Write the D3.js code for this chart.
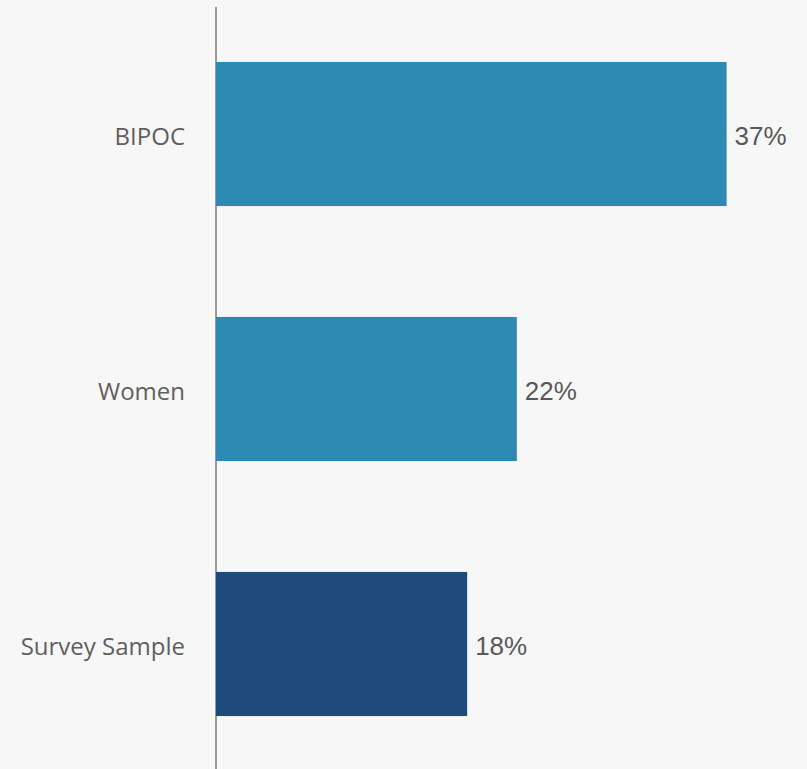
<!DOCTYPE html>
<html>
<head>
<meta charset="utf-8">
<script src="https://cdn.jsdelivr.net/npm/d3@7/dist/d3.min.js"></script>
<style>
  html, body { margin: 0; padding: 0; background: #f7f7f7; }
  svg { display: block; }
</style>
</head>
<body>
<svg id="chart" width="807" height="769"></svg>
<script>
const categories = ["BIPOC", "Women", "Survey Sample"];
const values = [37.0, 21.8, 18.2];
const valueLabels = ["37%", "22%", "18%"];
const barColors = ["#2d8ab2", "#2d8ab2", "#1f4a7c"];

const W = 807, H = 769;
const svg = d3.select("#chart");
svg.append("rect").attr("width", W).attr("height", H).attr("fill", "#f7f7f7");

const x = d3.scaleLinear().domain([0, 40]).range([216, 768]);
const y = d3.scaleBand().domain(categories).range([6.5, 771.5])
  .paddingInner(0.435).paddingOuter(0.2175);

const data = categories.map((c, i) => ({ c, v: values[i], label: valueLabels[i], color: barColors[i] }));

// axis line
svg.append("line")
  .attr("x1", x(0)).attr("x2", x(0))
  .attr("y1", 7).attr("y2", H)
  .attr("stroke", "#999999").attr("stroke-width", 2);

svg.selectAll("rect.bar").data(data).enter().append("rect")
  .attr("class", "bar")
  .attr("x", x(0))
  .attr("y", d => y(d.c))
  .attr("width", d => x(d.v) - x(0))
  .attr("height", y.bandwidth())
  .attr("fill", d => d.color);

svg.selectAll("text.val").data(data).enter().append("text")
  .attr("class", "val")
  .attr("x", d => x(d.v) + 8)
  .attr("y", d => y(d.c) + y.bandwidth() / 2 + 11)
  .attr("font-family", "Liberation Sans, Arial, sans-serif")
  .attr("font-size", 26)
  .attr("fill", "#595959")
  .text(d => d.label);

svg.selectAll("text.cat").data(data).enter().append("text")
  .attr("class", "cat")
  .attr("x", 185)
  .attr("y", d => y(d.c) + y.bandwidth() / 2 + 11)
  .attr("text-anchor", "end")
  .attr("font-family", "Open Sans, sans-serif")
  .attr("font-size", 24)
  .attr("fill", "#5f5f5f")
  .text(d => d.c);
</script>
</body>
</html>
